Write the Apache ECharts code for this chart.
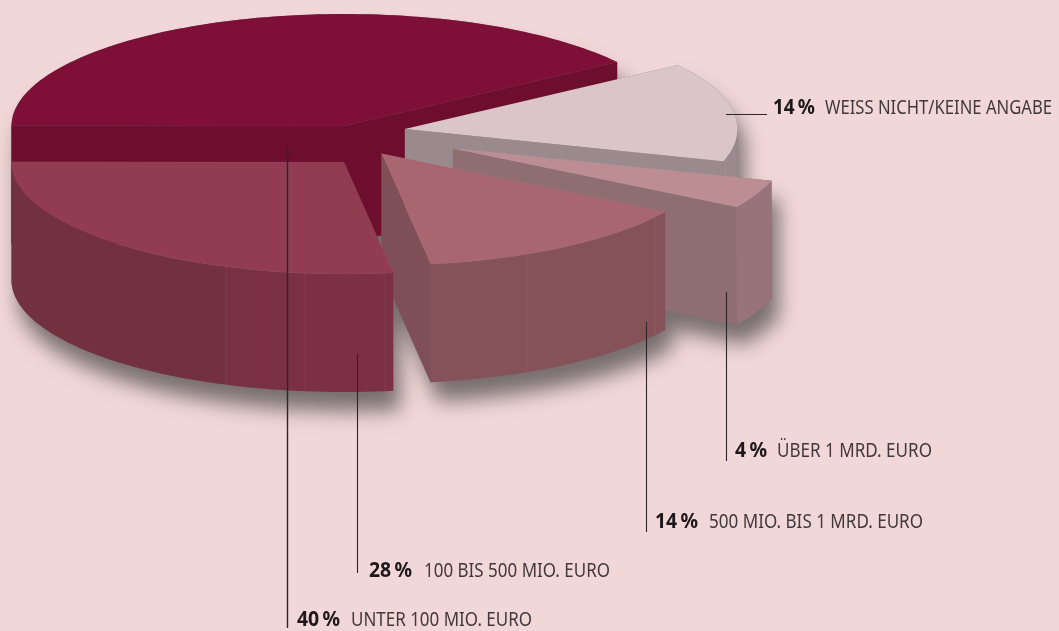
<!DOCTYPE html>
<html><head><meta charset="utf-8">
<style>html,body{margin:0;padding:0;background:#f2d7d8}#c{width:1059px;height:631px}</style>
<script src="https://cdn.jsdelivr.net/npm/echarts@6/dist/echarts.min.js"></script>
</head><body><div id="c"></div>
<script>
// DATA (clockwise from the upper right of the pie)
const categories = ['WEISS NICHT/KEINE ANGABE','ÜBER 1 MRD. EURO','500 MIO. BIS 1 MRD. EURO','100 BIS 500 MIO. EURO','UNTER 100 MIO. EURO'];
const percentLabels = ['14\u2009%','4\u2009%','14\u2009%','28\u2009%','40\u2009%'];
const shares = [14.3,4.1,13.9,27.4,40.3];

// LAYOUT / STYLE
const W=1059,H=631,RX=332.5,RY=112,DEPTH=118,START=34.8;
const centers=[[405,129],[453,148.5],[381.5,153.5],[344,162],[344,126]];
const topColors=['#dac6c8','#bd8d94','#a86670','#923c52','#7e0f37'];
const wallColors=['#9a8a8d','#96747a','#86525a','#7a3044','#6e0e2f'];
const cutColors=['#9a8a8d','#8f6e72','#7e4f56','#7a3044','#6e0e2f'];
const seamX=[[725],[],[527,655],[226,305,385],[]];
const leaders=[[[726,114.5],[767,114.5]],[[726.5,292],[726.5,461]],[[646.5,322],[646.5,532]],[[357.5,354],[357.5,573]],[[287.5,147],[287.5,628]]];
const labelPos=[ // pct x, pct width, text x, text width, centre y
 [773,42,825,227,108],[735,32,777,155,451],[655,43,709,214,522],[369,43,424,186,571],[297,43,351,181,620]];
const drawOrder=[4,0,1,2,3];
const FONT='"Noto Sans"';

const total=shares.reduce((a,b)=>a+b,0);
let acc=START;
const slices=shares.map((s,i)=>{const hi=acc;acc-=s/total*360;return {i,hi,lo:acc,cx:centers[i][0],cy:centers[i][1]};});
const rad=d=>d*Math.PI/180;
const pt=(s,a,dz=0)=>[s.cx+RX*Math.cos(rad(a)),s.cy-RY*Math.sin(rad(a))+dz];
function arc(s,from,to,dz=0){const n=Math.max(2,Math.ceil(Math.abs(to-from)/1.5));const o=[];
  for(let k=0;k<=n;k++)o.push(pt(s,from+(to-from)*k/n,dz));return o;}
function hull(p){p=p.slice().sort((a,b)=>a[0]-b[0]||a[1]-b[1]);
  const c=(o,a,b)=>(a[0]-o[0])*(b[1]-o[1])-(a[1]-o[1])*(b[0]-o[0]);
  const l=[],u=[];
  for(const q of p){while(l.length>1&&c(l[l.length-2],l[l.length-1],q)<=0)l.pop();l.push(q);}
  for(const q of p.slice().reverse()){while(u.length>1&&c(u[u.length-2],u[u.length-1],q)<=0)u.pop();u.push(q);}
  return l.slice(0,-1).concat(u.slice(0,-1));}

const hulls=slices.map(s=>{const a=arc(s,s.hi,s.lo);const apex=[s.cx,s.cy];
  return hull(a.concat([apex]).flatMap(q=>[q,[q[0],q[1]+DEPTH]]));});
const allPts=hulls.flat();
const bx0=Math.min(...allPts.map(q=>q[0])),bx1=Math.max(...allPts.map(q=>q[0]));
const by0=Math.min(...allPts.map(q=>q[1])),by1=Math.max(...allPts.map(q=>q[1]));
const shadowPath=hulls.map(h=>'M'+h.map(q=>q[0].toFixed(2)+' '+q[1].toFixed(2)).join('L')+'Z').join(' ');

function poly(points,fill,extra){return Object.assign({type:'polygon',shape:{points},style:{fill,stroke:fill,lineWidth:0.4}},extra||{});}
function cutFace(s,a,col){const e=pt(s,a);return poly([[s.cx,s.cy],e,[e[0],e[1]+DEPTH],[s.cx,s.cy+DEPTH]],col);}

function renderSlice(params,api){
  const s=slices[api.value(0)],i=s.i,children=[];
  if(Math.cos(rad(s.hi))<0)children.push(cutFace(s,s.hi,cutColors[i]));
  if(Math.cos(rad(s.lo))>0)children.push(cutFace(s,s.lo,cutColors[i]));
  // outer wall: only the part of the rim that faces the viewer
  const wHi=Math.min(s.hi,0),wLo=Math.max(s.lo,-180);
  if(wHi>wLo){
    const top=arc(s,wHi,wLo),bot=arc(s,wLo,wHi,DEPTH);
    const fill=i===3?{type:'linear',x:12,y:0,x2:393,y2:0,global:true,colorStops:[
      {offset:0,color:'#72313f'},{offset:0.56,color:'#73313f'},{offset:0.562,color:'#7a3044'},{offset:1,color:'#7c3045'}]}:wallColors[i];
    children.push({type:'polygon',shape:{points:top.concat(bot)},style:{fill,stroke:null}});
  }
  for(const x of seamX[i]){
    const y=s.cy+RY*Math.sqrt(1-Math.pow((x-s.cx)/RX,2));
    children.push({type:'line',shape:{x1:x,y1:y,x2:x,y2:y+DEPTH},style:{stroke:'rgba(255,255,255,0.07)',lineWidth:0.8}});
  }
  children.push({type:'polygon',shape:{points:[[s.cx,s.cy]].concat(arc(s,s.hi,s.lo))},
    style:{fill:topColors[i],stroke:'rgba(255,255,255,0.06)',lineWidth:0.5}});
  return {type:'group',children};
}

const mctx=document.createElement('canvas').getContext('2d');
function fitText(text,x,w,y,weight,size,fill){
  mctx.font=weight+' '+size+'px '+FONT;
  const m=mctx.measureText(text).width;
  return {type:'text',x,y,scaleX:w/m,style:{text,fontFamily:'Noto Sans',fontWeight:weight,fontSize:size,fill,align:'left',verticalAlign:'middle'}};
}
function renderLabel(params,api){
  const i=api.value(0),p=labelPos[i],l=leaders[i];
  return {type:'group',children:[
    {type:'line',shape:{x1:l[0][0],y1:l[0][1],x2:l[1][0],y2:l[1][1]},style:{stroke:'#2c2529',lineWidth:i===4?1.4:1.1}},
    fitText(percentLabels[i],p[0],p[1],p[4],'bold',21,'#1d181b'),
    fitText(categories[i],p[2],p[3],p[4],'normal',20,'#40383c')
  ]};
}
function renderShadow(){
  return {type:'path',shape:{pathData:shadowPath,x:bx0,y:by0,width:bx1-bx0,height:by1-by0,layout:'cover'},
    style:{fill:'#7c6f70',shadowColor:'rgba(51,51,51,0.64)',shadowBlur:20,shadowOffsetX:7,shadowOffsetY:19}};
}
const chart=echarts.init(document.getElementById('c'),null,{renderer:'canvas'});
chart.setOption({
  animation:false,backgroundColor:'#f2d7d8',
  series:[
    {type:'custom',coordinateSystem:'none',silent:true,z:1,data:[[0]],renderItem:renderShadow},
    {type:'custom',coordinateSystem:'none',silent:true,z:2,data:drawOrder.map(i=>[i]),renderItem:renderSlice},
    {type:'custom',coordinateSystem:'none',silent:true,z:3,data:categories.map((c,i)=>[i]),renderItem:renderLabel}
  ]
});
</script></body></html>
